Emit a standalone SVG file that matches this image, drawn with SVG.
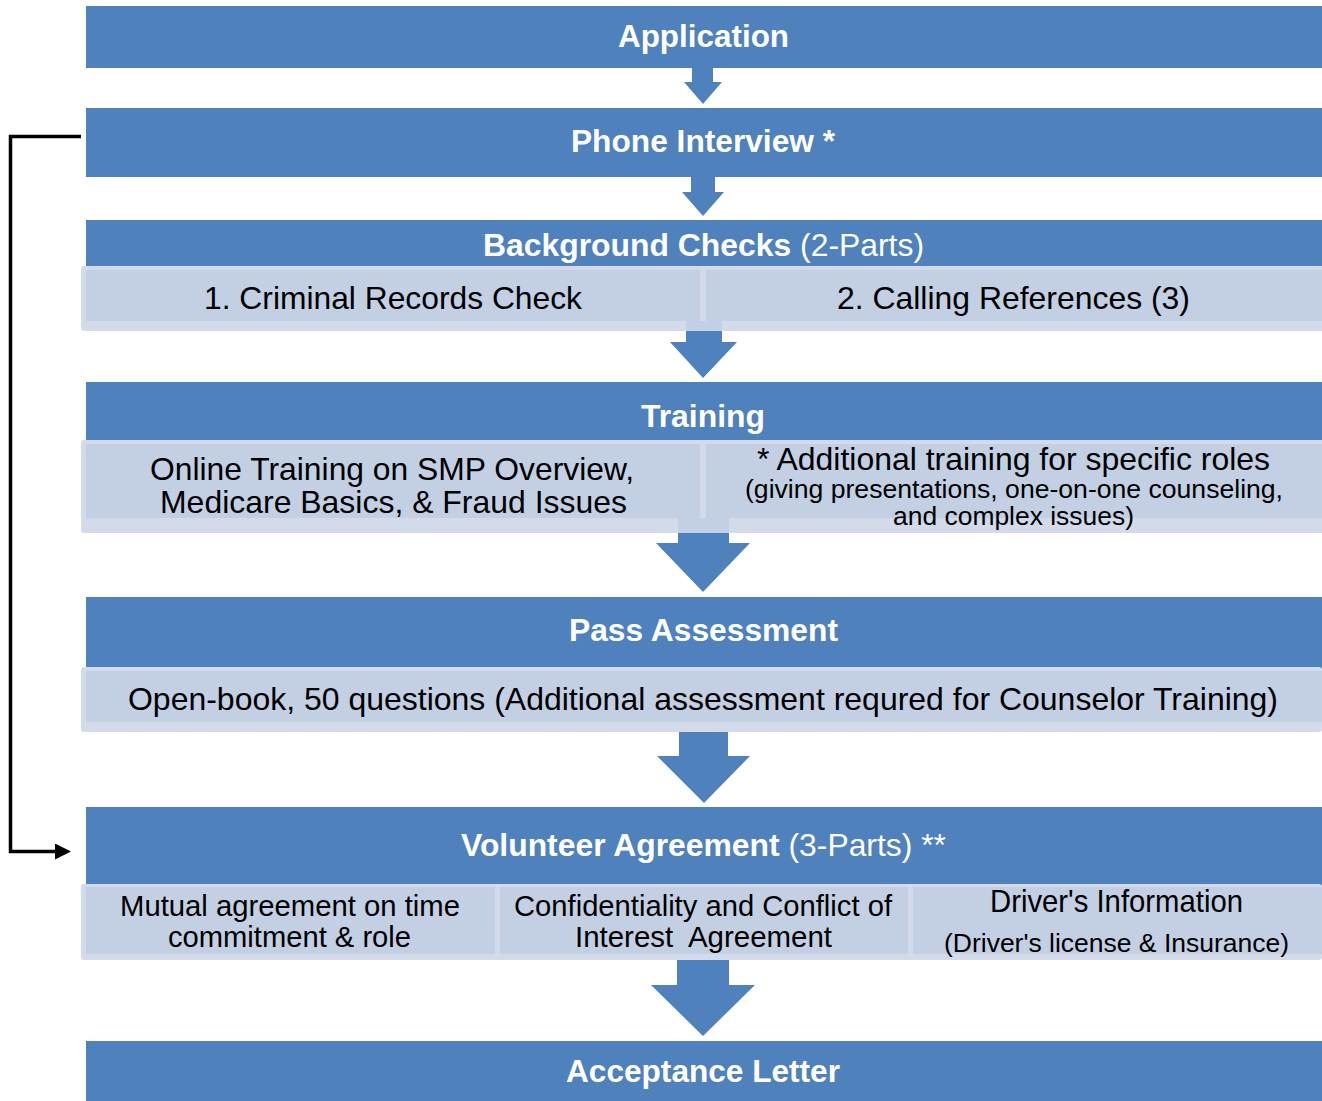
<svg xmlns="http://www.w3.org/2000/svg" width="1322" height="1101" viewBox="0 0 1322 1101">
<style>
.bar{fill:#4F81BD}
.sub{fill:#D3DBEA}
.pan{fill:#C3CFE3}
.arr{fill:#4F81BD}
.h{font-family:"Liberation Sans",Arial,sans-serif;font-weight:bold;font-size:32px;fill:#FFFFFF;text-anchor:middle}
.hr{font-weight:normal}
.t{font-family:"Liberation Sans",Arial,sans-serif;font-size:32px;fill:#000000;text-anchor:middle}
.tn{font-size:30px}
.s{font-family:"Liberation Sans",Arial,sans-serif;font-size:25px;fill:#000000;text-anchor:middle}
.conn{fill:none;stroke:#000000;stroke-width:3.5}
</style>
<defs>
<marker id="ah" markerWidth="16" markerHeight="16" refX="2" refY="8" orient="auto" markerUnits="userSpaceOnUse">
<path d="M0,0 L16,8 L0,16 Z" fill="#000000"/>
</marker>
</defs>
<rect width="1322" height="1101" fill="#FFFFFF"/>

<g id="arrows">
<polygon class="arr" points="692,67 713,67 713,82 722,82 703,104 684,82 692,82"/>
<polygon class="arr" points="691,176 715,176 715,192 724,192 703,216 682,192 691,192"/>
<polygon class="arr" points="686,321 722,321 722,342 737,342 703,378 670,342 686,342"/>
<polygon class="arr" points="678,518 729,518 729,543 750,543 703,592 656,543 678,543"/>
<polygon class="arr" points="679,732 728,732 728,756 750,756 704,803 657,756 679,756"/>
<polygon class="arr" points="677,958 729,958 729,985 755,985 703,1036 651,985 677,985"/>
</g>

<g id="application">
<rect class="bar" x="86" y="6" width="1236" height="62"/>
<text class="h" x="703.5" y="47" textLength="171" lengthAdjust="spacingAndGlyphs">Application</text>
</g>

<g id="phone-interview">
<rect class="bar" x="86" y="108" width="1236" height="69"/>
<text class="h" x="703" y="152" textLength="264" lengthAdjust="spacingAndGlyphs">Phone Interview *</text>
</g>

<g id="background-checks">
<rect class="bar" x="86" y="220" width="1236" height="48"/>
<text class="h" x="703.5" y="256" textLength="441" lengthAdjust="spacingAndGlyphs">Background Checks<tspan class="hr"> (2-Parts)</tspan></text>
<path class="sub" d="M84,266 H1322 V331 H722 V323 Q722,321 720,321 H688 Q686,321 686,323 V331 H84 Q81,331 81,328 V269 Q81,266 84,266 Z"/>
<rect x="686" y="321" width="36" height="10" fill="#C3CFE3"/>
<rect class="pan" x="86" y="270" width="614" height="51"/>
<rect class="pan" x="706" y="270" width="616" height="51"/>
<text class="t" x="393" y="309" textLength="378" lengthAdjust="spacingAndGlyphs">1. Criminal Records Check</text>
<text class="t" x="1013.5" y="309" textLength="353" lengthAdjust="spacingAndGlyphs">2. Calling References (3)</text>
</g>

<g id="training">
<rect class="bar" x="86" y="382" width="1236" height="60"/>
<text class="h" x="703" y="427" textLength="124" lengthAdjust="spacingAndGlyphs">Training</text>
<path class="sub" d="M84,440 H1322 V533 H729 V520 Q729,518 727,518 H680 Q678,518 678,520 V533 H84 Q81,533 81,530 V443 Q81,440 84,440 Z"/>
<rect x="678" y="518" width="51" height="15" fill="#C3CFE3"/>
<rect class="pan" x="86" y="444" width="614" height="74"/>
<rect class="pan" x="706" y="444" width="616" height="74"/>
<text class="t" x="392" y="480" textLength="484" lengthAdjust="spacingAndGlyphs">Online Training on SMP Overview,</text>
<text class="t" x="393.5" y="513" textLength="467" lengthAdjust="spacingAndGlyphs">Medicare Basics, &amp; Fraud Issues</text>
<text class="t" x="1013.5" y="470" textLength="513" lengthAdjust="spacingAndGlyphs">* Additional training for specific roles</text>
<text class="s" x="1014" y="498" textLength="538" lengthAdjust="spacingAndGlyphs">(giving presentations, one-on-one counseling,</text>
<text class="s" x="1013.5" y="525" textLength="241" lengthAdjust="spacingAndGlyphs">and complex issues)</text>
</g>

<g id="pass-assessment">
<rect class="bar" x="86" y="597" width="1236" height="72"/>
<text class="h" x="703.5" y="641" textLength="269" lengthAdjust="spacingAndGlyphs">Pass Assessment</text>
<rect class="sub" x="81" y="667" width="1241" height="65" rx="3"/>
<rect class="pan" x="86" y="671" width="1236" height="51"/>
<text class="t" x="703" y="710" textLength="1150" lengthAdjust="spacingAndGlyphs">Open-book, 50 questions (Additional assessment requred for Counselor Training)</text>
</g>

<g id="volunteer-agreement">
<rect class="bar" x="86" y="807" width="1236" height="79"/>
<text class="h" x="703.5" y="856" textLength="485" lengthAdjust="spacingAndGlyphs">Volunteer Agreement<tspan class="hr"> (3-Parts) **</tspan></text>
<rect class="sub" x="81" y="884" width="1241" height="76" rx="3"/>
<rect class="pan" x="86" y="887" width="409" height="67"/>
<rect class="pan" x="500" y="887" width="408" height="67"/>
<rect class="pan" x="913" y="887" width="409" height="67"/>
<text class="t tn" x="290" y="916" textLength="340" lengthAdjust="spacingAndGlyphs">Mutual agreement on time</text>
<text class="t tn" x="289.5" y="947" textLength="243" lengthAdjust="spacingAndGlyphs">commitment &amp; role</text>
<text class="t tn" x="703" y="916" textLength="378" lengthAdjust="spacingAndGlyphs">Confidentiality and Conflict of</text>
<text class="t tn" x="703.5" y="947" textLength="257" lengthAdjust="spacingAndGlyphs" xml:space="preserve">Interest  Agreement</text>
<text class="t" x="1116.5" y="912" textLength="253" lengthAdjust="spacingAndGlyphs">Driver's Information</text>
<text class="s" x="1116.5" y="952" textLength="345" lengthAdjust="spacingAndGlyphs">(Driver's license &amp; Insurance)</text>
</g>

<g id="acceptance-letter">
<rect class="bar" x="86" y="1041" width="1236" height="60"/>
<text class="h" x="703" y="1082" textLength="274" lengthAdjust="spacingAndGlyphs">Acceptance Letter</text>
</g>

<g id="connectors">
<path class="conn" d="M81,136.5 H10.5 V851.5 H57" marker-end="url(#ah)"/>
</g>
</svg>
